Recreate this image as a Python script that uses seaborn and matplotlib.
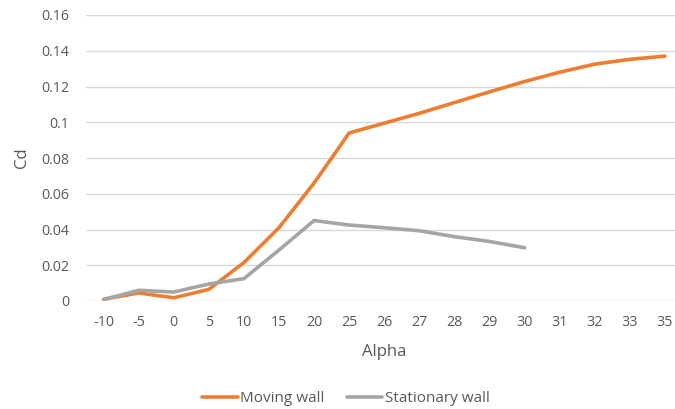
import matplotlib
matplotlib.use("Agg")
import matplotlib.pyplot as plt
import seaborn as sns
import pandas as pd

alpha_labels = ["-10", "-5", "0", "5", "10", "15", "20", "25", "26", "27",
                "28", "29", "30", "31", "32", "33", "35"]
moving_wall = [0.001, 0.0045, 0.0018, 0.0065, 0.0215, 0.041, 0.066, 0.094,
               0.0995, 0.105, 0.111, 0.117, 0.1228, 0.128, 0.1325, 0.1352, 0.137]
stationary_wall = [0.0008, 0.006, 0.005, 0.0095, 0.0125, 0.0285, 0.045, 0.0425,
                   0.041, 0.0393, 0.036, 0.0333, 0.0298]

rows = []
for i, v in enumerate(moving_wall):
    rows.append({"pos": i, "Cd": v, "series": "Moving wall"})
for i, v in enumerate(stationary_wall):
    rows.append({"pos": i, "Cd": v, "series": "Stationary wall"})
df = pd.DataFrame(rows)

sns.set_theme(style="white")
plt.rcParams["font.family"] = ["Open Sans", "DejaVu Sans"]
text_color = "#595959"

fig = plt.figure(figsize=(6.75, 4.09), dpi=100)
ax = fig.add_axes([86 / 675, 108 / 409, 596.5 / 675, 286 / 409])

sns.lineplot(data=df, x="pos", y="Cd", hue="series",
             palette={"Moving wall": "#ed7d31", "Stationary wall": "#a5a5a5"},
             linewidth=2.6, ax=ax, legend=True)

ax.set_xlim(-0.5, len(alpha_labels) - 0.5)
ax.set_ylim(0, 0.16)
ax.set_xticks(range(len(alpha_labels)))
ax.set_xticklabels(alpha_labels)
yt = [0, 0.02, 0.04, 0.06, 0.08, 0.1, 0.12, 0.14, 0.16]
ax.set_yticks(yt)
ax.set_yticklabels(["0", "0.02", "0.04", "0.06", "0.08", "0.1", "0.12", "0.14", "0.16"])
ax.yaxis.grid(True, color="#d9d9d9", linewidth=1)
ax.xaxis.grid(False)
for s in ax.spines.values():
    s.set_visible(False)
ax.tick_params(axis="both", length=0, colors=text_color, labelsize=10.3)
ax.tick_params(axis="y", pad=12)
ax.tick_params(axis="x", pad=10)
ax.set_xlabel("Alpha", color=text_color, fontsize=12, labelpad=10)
ax.set_ylabel("Cd", color=text_color, fontsize=12, labelpad=8)

handles, labels = ax.get_legend_handles_labels()
ax.get_legend().remove()
fig.legend(handles, labels, loc="center", bbox_to_anchor=(346 / 675, 1 - 399 / 409),
           ncol=2, frameon=False, fontsize=11, labelcolor=text_color,
           handlelength=2.3, handletextpad=0.15, columnspacing=1.5)

fig.savefig("out.png", dpi=100)
